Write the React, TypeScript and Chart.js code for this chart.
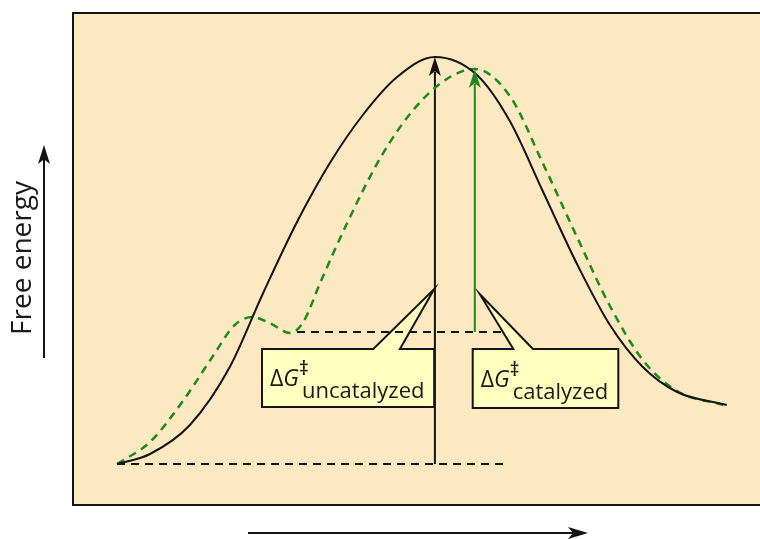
import { useEffect, useRef } from "react";
import { Chart, registerables, type ChartConfiguration, type Plugin } from "chart.js";

Chart.register(...registerables);

// reaction progress (0 = left frame edge) and free energy (0 = bottom frame edge)
const uncatX = [6.3, 11, 16.7, 22.4, 27.1, 32, 36.7, 41.4, 46.3, 51.7, 57.7, 62.4, 67.1, 72, 76.7, 81.4, 86.3, 93.4];
const uncatG = [8.2, 10.2, 16, 27.6, 42.2, 56.6, 68.4, 78, 85.6, 89.6, 86, 76.8, 62.8, 48.2, 36, 27.6, 22.6, 20];

const catX = [6.3, 11, 15.7, 20, 23.1, 25.6, 28.1, 31, 32.9, 35.3, 39.1, 43.9, 48.6, 53.4, 57.4, 62.4, 67.1, 72, 76.7, 81.4, 86.3, 92.9];
const catG = [8.2, 12.6, 20.8, 29.8, 36, 37.6, 36.4, 34.4, 36.6, 44.4, 56.2, 69.4, 79, 85.2, 87.2, 81.8, 68.4, 53.6, 39.8, 29, 22.8, 20];

const groundG = 8.2;
const groundEndX = 61.7;
const intermediateG = 34.6;
const intermediateX = [32, 62];
const uncatPeak = { x: 51.7, g: 89.6 };
const catPeak = { x: 57.4, g: 87.2 };

const X_MAX = 98.14;
const Y_MAX = 98.4;

const BG = "#FCE8C1";
const BOX = "#FFFFBF";
const INK = "#141414";
const GREEN = "#1C8A1C";
const FONT = '"Open Sans", "DejaVu Sans", sans-serif';

// callout boxes: box [left, right, bottom, top], pointer tip and pointer base (x, x)
const callouts = [
  { sub: "uncatalyzed", box: [27, 51.6, 19.6, 31.2], tip: [51.6, 43.2], base: [42.9, 46.7] },
  { sub: "catalyzed", box: [57.1, 77.9, 19.4, 31.2], tip: [58.1, 42.2], base: [62.9, 65.7] },
];

function head(ctx: CanvasRenderingContext2D, x: number, y: number, dx: number, dy: number, len: number, half: number, color: string) {
  const px = -dy, py = dx;
  ctx.beginPath();
  ctx.moveTo(x, y);
  ctx.lineTo(x - dx * len + px * half, y - dy * len + py * half);
  ctx.lineTo(x - dx * len * 0.75, y - dy * len * 0.75);
  ctx.lineTo(x - dx * len - px * half, y - dy * len - py * half);
  ctx.closePath();
  ctx.fillStyle = color;
  ctx.fill();
}

function drawLabel(ctx: CanvasRenderingContext2D, sub: string, left: number, bottom: number) {
  const base = bottom - 21;
  ctx.fillStyle = "#1a1a1a";
  ctx.textAlign = "left";
  ctx.textBaseline = "alphabetic";
  ctx.font = `23px ${FONT}`;
  let cx = left + 8;
  ctx.fillText("Δ", cx, base);
  cx += ctx.measureText("Δ").width;
  ctx.font = `italic 23px ${FONT}`;
  ctx.fillText("G", cx, base);
  cx += ctx.measureText("G").width;
  ctx.font = `600 19px ${FONT}`;
  ctx.fillText("‡", cx, base - 11);
  ctx.font = `22px ${FONT}`;
  ctx.fillText(sub, cx + 3, base + 12);
}

const diagram: Plugin = {
  id: "diagram",
  beforeDatasetsDraw(chart) {
    const { ctx, chartArea: a, scales } = chart;
    const sx = scales.x, sy = scales.y;
    ctx.save();
    ctx.fillStyle = BG;
    ctx.fillRect(a.left, a.top, a.right - a.left, a.bottom - a.top);

    for (const c of callouts) {
      const l = sx.getPixelForValue(c.box[0]);
      const r = sx.getPixelForValue(c.box[1]);
      const b = sy.getPixelForValue(c.box[2]);
      const t = sy.getPixelForValue(c.box[3]);
      const b0 = sx.getPixelForValue(c.base[0]);
      const b1 = sx.getPixelForValue(c.base[1]);
      const tx = sx.getPixelForValue(c.tip[0]);
      const ty = sy.getPixelForValue(c.tip[1]);
      ctx.beginPath();
      ctx.moveTo(l, t);
      ctx.lineTo(b0, t);
      ctx.lineTo(tx, ty);
      ctx.lineTo(b1, t);
      ctx.lineTo(r, t);
      ctx.lineTo(r, b);
      ctx.lineTo(l, b);
      ctx.closePath();
      ctx.fillStyle = BOX;
      ctx.fill();
      ctx.lineWidth = 2;
      ctx.strokeStyle = INK;
      ctx.lineJoin = "miter";
      ctx.stroke();
      drawLabel(ctx, c.sub, l, b);
    }
    ctx.restore();
  },
  afterDatasetsDraw(chart) {
    const { ctx, chartArea: a, scales } = chart;
    const sx = scales.x, sy = scales.y;
    ctx.save();
    // arrowheads on the barrier arrows
    head(ctx, sx.getPixelForValue(uncatPeak.x), sy.getPixelForValue(uncatPeak.g), 0, -1, 19, 6, INK);
    head(ctx, sx.getPixelForValue(catPeak.x), sy.getPixelForValue(catPeak.g), 0, -1, 19, 6, GREEN);

    // frame (right edge runs off the page)
    ctx.strokeStyle = INK;
    ctx.lineWidth = 2;
    ctx.beginPath();
    ctx.moveTo(a.right + 2, a.top);
    ctx.lineTo(a.left, a.top);
    ctx.lineTo(a.left, a.bottom);
    ctx.lineTo(a.right + 2, a.bottom);
    ctx.stroke();

    // y axis: label + arrow
    ctx.fillStyle = "#1a1a1a";
    ctx.font = `28px ${FONT}`;
    ctx.textAlign = "center";
    ctx.textBaseline = "alphabetic";
    ctx.translate(31, 258);
    ctx.rotate(-Math.PI / 2);
    ctx.fillText("Free energy", 0, 0);
    ctx.setTransform(1, 0, 0, 1, 0, 0);
    const dpr = chart.currentDevicePixelRatio;
    ctx.scale(dpr, dpr);
    ctx.lineWidth = 2;
    ctx.beginPath();
    ctx.moveTo(44, 358);
    ctx.lineTo(44, 150);
    ctx.stroke();
    head(ctx, 44, 145, 0, -1, 19, 6, INK);

    // x axis arrow
    ctx.beginPath();
    ctx.moveTo(248, 533);
    ctx.lineTo(582, 533);
    ctx.stroke();
    head(ctx, 588, 533, 1, 0, 20, 6, INK);
    ctx.restore();
  },
};

const pts = (xs: number[], ys: number[]) => xs.map((x, i) => ({ x, y: ys[i] }));

export default function App() {
  const canvasRef = useRef<HTMLCanvasElement>(null);

  useEffect(() => {
    if (!canvasRef.current) return;
    const line = { showLine: true, pointRadius: 0, fill: false };
    const cfg: ChartConfiguration<"scatter"> = {
      type: "scatter",
      data: {
        datasets: [
          {
            ...line,
            label: "uncatalyzed",
            data: pts(uncatX, uncatG),
            borderColor: INK,
            borderWidth: 2,
            cubicInterpolationMode: "monotone",
          },
          {
            ...line,
            label: "catalyzed",
            data: pts(catX, catG),
            borderColor: GREEN,
            borderWidth: 2.5,
            borderDash: [8, 6],
            cubicInterpolationMode: "monotone",
          },
          {
            ...line,
            label: "ground",
            data: [{ x: uncatX[0], y: groundG }, { x: groundEndX, y: groundG }],
            borderColor: INK,
            borderWidth: 2,
            borderDash: [8, 6],
          },
          {
            ...line,
            label: "intermediate",
            data: [{ x: intermediateX[0], y: intermediateG }, { x: intermediateX[1], y: intermediateG }],
            borderColor: INK,
            borderWidth: 2,
            borderDash: [8, 6],
          },
          {
            ...line,
            label: "ΔG uncatalyzed",
            data: [{ x: uncatPeak.x, y: groundG }, { x: uncatPeak.x, y: uncatPeak.g - 3 }],
            borderColor: INK,
            borderWidth: 2,
          },
          {
            ...line,
            label: "ΔG catalyzed",
            data: [{ x: catPeak.x, y: intermediateG }, { x: catPeak.x, y: catPeak.g - 3 }],
            borderColor: GREEN,
            borderWidth: 2,
          },
        ],
      },
      options: {
        animation: false,
        responsive: true,
        maintainAspectRatio: false,
        layout: { padding: { left: 73, top: 13, right: 0, bottom: 34 } },
        plugins: { legend: { display: false }, tooltip: { enabled: false } },
        scales: {
          x: { type: "linear", min: 0, max: X_MAX, display: false },
          y: { type: "linear", min: 0, max: Y_MAX, display: false },
        },
      },
      plugins: [diagram],
    };
    const chart = new Chart(canvasRef.current, cfg);
    return () => chart.destroy();
  }, []);

  return (
    <div style={{ position: "fixed", left: 0, top: 0, width: 760, height: 539, background: "#fff" }}>
      <canvas ref={canvasRef} />
    </div>
  );
}
